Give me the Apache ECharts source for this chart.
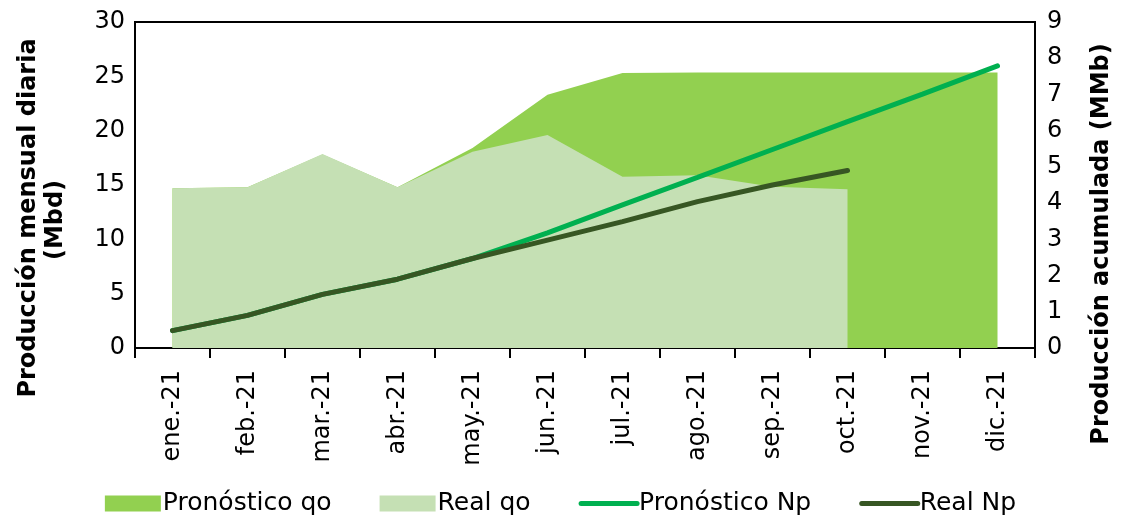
<!DOCTYPE html>
<html>
<head>
<meta charset="utf-8">
<script src="https://cdn.jsdelivr.net/npm/echarts@6/dist/echarts.min.js"></script>
<style>
  html, body { margin: 0; padding: 0; background: #fff; }
  #chart { width: 1121px; height: 520px; }
</style>
</head>
<body>
<div id="chart"></div>
<script>
// meses
var meses = ['ene.-21', 'feb.-21', 'mar.-21', 'abr.-21', 'may.-21', 'jun.-21',
             'jul.-21', 'ago.-21', 'sep.-21', 'oct.-21', 'nov.-21', 'dic.-21'];
// Mbd (eje izquierdo)
var pronosticoQo = [14.7, 14.8, 17.8, 14.8, 18.4, 23.3, 25.3, 25.35, 25.35, 25.35, 25.35, 25.35];
var realQo = [14.7, 14.8, 17.85, 14.8, 18.05, 19.6, 15.75, 15.9, 14.85, 14.6, '-', '-'];
// MMb (eje derecho)
var pronosticoNp = [0.48, 0.9, 1.48, 1.9, 2.47, 3.18, 3.95, 4.71, 5.48, 6.25, 7.01, 7.79];
var realNp = [0.48, 0.9, 1.48, 1.9, 2.47, 2.98, 3.49, 4.04, 4.5, 4.9, '-', '-'];

var fuente = 'DejaVu Sans';
var tam = 24;
var chart = echarts.init(document.getElementById('chart'));

var option = {
  animation: false,
  textStyle: { fontFamily: fuente, color: '#000' },
  grid: {
    left: 135, right: 86, top: 22, bottom: 172,
    show: true, borderColor: '#000', borderWidth: 2
  },
  legend: {
    bottom: -1,
    left: 'center',
    itemWidth: 56,
    itemHeight: 16,
    itemGap: 48,
    textStyle: { fontFamily: fuente, fontSize: 25, color: '#000', padding: [0, 0, 0, -3] },
    data: [
      { name: 'Pronóstico qo', icon: 'rect' },
      { name: 'Real qo', icon: 'rect' },
      { name: 'Pronóstico Np', itemStyle: { opacity: 0 }, lineStyle: { width: 5, color: '#00B050' } },
      { name: 'Real Np', itemStyle: { opacity: 0 }, lineStyle: { width: 5, color: '#375623' } }
    ]
  },
  xAxis: {
    type: 'category',
    data: meses,
    boundaryGap: true,
    axisLine: { lineStyle: { color: '#000', width: 2 } },
    axisTick: { show: true, length: 10, inside: false, lineStyle: { color: '#000', width: 2 } },
    axisLabel: {
      rotate: 90, margin: 22, interval: 0,
      fontFamily: fuente, fontSize: tam, color: '#000'
    },
    splitLine: { show: false }
  },
  yAxis: [
    {
      type: 'value', min: 0, max: 30, interval: 5,
      axisLine: { show: true, lineStyle: { color: '#000', width: 2 } },
      axisTick: { show: false },
      axisLabel: { fontFamily: fuente, fontSize: tam, color: '#000', margin: 10 },
      splitLine: { show: false }
    },
    {
      type: 'value', min: 0, max: 9, interval: 1,
      axisLine: { show: false },
      axisTick: { show: false },
      axisLabel: { fontFamily: fuente, fontSize: tam, color: '#000', margin: 12 },
      splitLine: { show: false }
    }
  ],
  graphic: [
    {
      type: 'text', x: 29, y: 218, rotation: Math.PI / 2,
      style: {
        text: 'Producción mensual diaria', fontFamily: fuente, fontSize: tam,
        fontWeight: 'bold', fill: '#000', align: 'center', verticalAlign: 'middle'
      }
    },
    {
      type: 'text', x: 56, y: 220, rotation: Math.PI / 2,
      style: {
        text: '(Mbd)', fontFamily: fuente, fontSize: tam,
        fontWeight: 'bold', fill: '#000', align: 'center', verticalAlign: 'middle'
      }
    },
    {
      type: 'text', x: 1102, y: 244, rotation: Math.PI / 2,
      style: {
        text: 'Producción acumulada (MMb)', fontFamily: fuente, fontSize: tam,
        fontWeight: 'bold', fill: '#000', align: 'center', verticalAlign: 'middle'
      }
    }
  ],
  series: [
    {
      name: 'Pronóstico qo',
      type: 'line',
      yAxisIndex: 0,
      data: pronosticoQo,
      symbol: 'none',
      lineStyle: { width: 0 },
      itemStyle: { color: '#92D050' },
      areaStyle: { color: '#92D050', opacity: 1 },
      z: 1
    },
    {
      name: 'Real qo',
      type: 'line',
      yAxisIndex: 0,
      data: realQo,
      symbol: 'none',
      lineStyle: { width: 0 },
      itemStyle: { color: '#C5E0B4' },
      areaStyle: { color: '#C5E0B4', opacity: 1 },
      z: 2
    },
    {
      name: 'Pronóstico Np',
      type: 'line',
      yAxisIndex: 1,
      data: pronosticoNp,
      symbol: 'none',
      lineStyle: { width: 5, color: '#00B050', cap: 'round' },
      itemStyle: { color: '#00B050' },
      z: 3
    },
    {
      name: 'Real Np',
      type: 'line',
      yAxisIndex: 1,
      data: realNp,
      symbol: 'none',
      lineStyle: { width: 5, color: '#375623', cap: 'round' },
      itemStyle: { color: '#375623' },
      z: 4
    }
  ]
};

chart.setOption(option);
</script>
</body>
</html>
